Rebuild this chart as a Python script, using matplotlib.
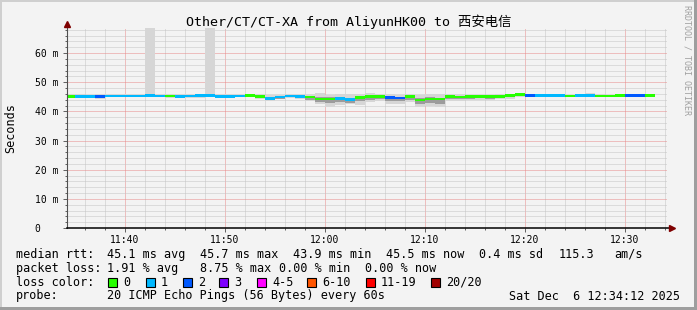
import numpy as np
import matplotlib
matplotlib.use("Agg")
import matplotlib.pyplot as plt
from matplotlib.patches import Rectangle

plt.rcParams["lines.scale_dashes"] = False
MONO = ["DejaVu Sans Mono", "Noto Sans CJK SC"]

# ---------------------------------------------------------------------------
# Data (one value per 60 s step starting 11:34)
# ---------------------------------------------------------------------------
first_step = "11:34"
window = ("11:34:12", "12:34:12")

median = [45.2, 45.2, 45.2, 45.1, 45.3, 45.3, 45.3, 45.3, 45.4, 45.3,
          45.3, 45.2, 45.3, 45.4, 45.4, 45.2, 45.2, 45.3, 45.5, 45.0,
          44.4, 44.9, 45.3, 45.1, 44.9, 44.2, 44.2, 44.5, 44.1, 44.7,
          45.1, 45.1, 44.7, 44.6, 45.0, 43.9, 44.3, 44.2, 45.1, 44.9,
          45.0, 45.0, 45.0, 45.2, 45.4, 45.7, 45.4, 45.4, 45.4, 45.4,
          45.3, 45.5, 45.5, 45.3, 45.3, 45.4, 45.5, 45.5, 45.5]
lost = [0, 1, 1, 2, 1, 1, 1, 1, 1, 1,
        0, 1, 1, 1, 1, 1, 1, 1, 0, 0,
        1, 1, 1, 1, 0, 0, 0, 1, 1, 0,
        0, 0, 2, 2, 0, 0, 0, 0, 0, 0,
        0, 0, 0, 0, 0, 0, 2, 1, 1, 1,
        0, 1, 1, 0, 0, 0, 2, 2, 0]
ping_max = [46.1, 45.8, 45.7, 45.8, 45.9, 45.9, 45.8, 45.8, 90.0, 45.9,
            45.8, 45.8, 45.9, 45.9, 90.0, 46.0, 46.1, 46.0, 46.0, 45.9,
            45.6, 45.7, 46.0, 45.9, 46.1, 46.2, 45.6, 45.9, 45.8, 46.0,
            46.3, 46.0, 45.9, 45.7, 45.8, 45.6, 46.1, 45.9, 46.0, 45.8,
            45.7, 45.6, 45.7, 45.8, 46.0, 46.2, 46.0, 45.8, 45.8, 45.9,
            45.7, 46.0, 46.2, 45.8, 45.7, 45.8, 45.9, 45.8, 45.9]
ping_min = [44.6, 44.8, 44.8, 44.3, 44.9, 44.9, 44.9, 44.8, 44.9, 44.9,
            44.6, 44.7, 44.5, 44.5, 44.9, 44.9, 44.8, 44.8, 44.9, 44.3,
            43.6, 44.1, 44.6, 44.4, 43.4, 42.4, 41.6, 42.3, 42.6, 42.3,
            43.2, 43.4, 42.7, 42.6, 43.2, 41.4, 41.8, 41.6, 43.4, 43.6,
            43.9, 44.0, 44.0, 44.2, 44.4, 44.8, 44.8, 44.8, 44.9, 44.9,
            44.8, 44.9, 45.0, 44.8, 44.8, 44.8, 44.9, 44.9, 44.8]
ping_q3 = [45.6, 45.5, 45.5, 45.5, 45.6, 45.6, 45.6, 45.6, 45.7, 45.6,
           45.6, 45.5, 45.6, 45.7, 45.7, 45.5, 45.5, 45.6, 45.8, 45.4,
           44.9, 45.3, 45.6, 45.5, 45.4, 44.8, 44.8, 45.0, 44.7, 45.2,
           45.6, 45.5, 45.2, 45.1, 45.4, 44.5, 44.8, 44.7, 45.5, 45.3,
           45.4, 45.4, 45.4, 45.5, 45.7, 46.0, 45.7, 45.7, 45.7, 45.7,
           45.6, 45.8, 45.8, 45.6, 45.6, 45.7, 45.8, 45.8, 45.8]
ping_q1 = [44.8, 44.8, 44.8, 44.6, 44.9, 44.9, 44.9, 44.9, 45.0, 44.9,
           44.9, 44.8, 44.8, 44.9, 45.0, 44.8, 44.8, 44.9, 45.1, 44.5,
           43.8, 44.4, 44.8, 44.6, 44.0, 43.1, 42.8, 43.3, 43.0, 43.4,
           44.0, 44.1, 43.5, 43.4, 43.9, 42.5, 42.9, 42.7, 44.1, 44.2,
           44.4, 44.5, 44.4, 44.6, 44.8, 45.2, 45.0, 45.0, 45.0, 45.1,
           44.9, 45.1, 45.2, 45.0, 45.0, 45.0, 45.1, 45.1, 45.0]

y_labels = ["0   ", "10 m", "20 m", "30 m", "40 m", "50 m", "60 m"]
loss_labels = ["0", "1", "2", "3", "4-5", "6-10", "11-19", "20/20"]
loss_colors = ["#26ff00", "#00b8ff", "#0059ff", "#7e00ff",
               "#ff00ff", "#ff5500", "#ff0000", "#a10000"]

stats_rtt = ["45.1 ms avg", "45.7 ms max", "43.9 ms min", "45.5 ms now",
             "0.4 ms sd", "115.3", "am/s"]
stats_loss = ["1.91 % avg", "8.75 % max", "0.00 % min", "0.00 % now"]
probe_text = "20 ICMP Echo Pings (56 Bytes) every 60s"
stamp = "Sat Dec  6 12:34:12 2025"
title = "Other/CT/CT-XA from AliyunHK00 to 西安电信"


def to_min(s):
    p = [int(v) for v in s.split(":")]
    return p[0] * 60 + p[1] + (p[2] / 60 if len(p) > 2 else 0)


def color_for(n):
    if n <= 3:
        return loss_colors[n]
    if n <= 5:
        return loss_colors[4]
    if n <= 10:
        return loss_colors[5]
    if n <= 19:
        return loss_colors[6]
    return loss_colors[7]


median = np.array(median)
steps = to_min(first_step) + np.arange(len(median))
xlo, xhi = to_min(window[0]), to_min(window[1])

# ---------------------------------------------------------------------------
# Figure
# ---------------------------------------------------------------------------
W, H = 697, 310
BG = "#f3f3f3"
fig = plt.figure(figsize=(W / 100, H / 100), dpi=100, facecolor=BG)
ax = fig.add_axes([67 / W, 1 - 228 / H, 600 / W, 200 / H])
ax.set_facecolor(BG)

# smoke + median
ax.bar(steps, np.array(ping_max) - np.array(ping_min), bottom=ping_min,
       width=1, align="edge", color="#d6d6d6", linewidth=0, zorder=2)
ax.bar(steps, np.array(ping_q3) - np.array(ping_q1), bottom=ping_q1,
       width=1, align="edge", color="#9c9c9c", linewidth=0, zorder=3)
ax.bar(steps, 0.9, bottom=median - 0.45, width=1, align="edge",
       color=[color_for(n) for n in lost], linewidth=0, zorder=4)

ax.set_xlim(xlo, xhi)
ax.set_ylim(0, 68.6)

ax.set_xticks(np.arange(700, 755, 10))
ax.set_xticks(np.arange(696, 755, 2), minor=True)
ax.set_xticklabels([f"{int(m) // 60}:{int(m) % 60:02d}" for m in ax.get_xticks()])
ax.set_yticks(np.arange(0, 61, 10))
ax.set_yticks(np.arange(0, 69, 2), minor=True)
ax.set_yticklabels(y_labels)

ax.set_axisbelow(True)
ax.grid(which="minor", color="#c4c4c4", linestyle=(0, (0.72, 0.72)), linewidth=0.72)
ax.grid(which="major", color="#e88a8a", linestyle=(0, (0.72, 0.72)), linewidth=0.72)

for s in ax.spines.values():
    s.set_visible(False)
ax.tick_params(which="both", direction="out", color="#606060", width=0.7,
               labelsize=7, labelfontfamily="DejaVu Sans Mono")
ax.tick_params(which="major", length=3)
ax.tick_params(which="minor", length=1.2)
ax.tick_params(axis="y", pad=3)
ax.tick_params(axis="x", pad=2)

# axes lines with arrows
ax.plot([0, 0], [0, 1.02], transform=ax.transAxes, clip_on=False,
        color="#505050", lw=0.8, zorder=5)
ax.plot([0, 1.008], [0, 0], transform=ax.transAxes, clip_on=False,
        color="black", lw=1.1, zorder=5)
ax.plot(0, 1.02, marker="^", ms=4, color="#7f0000", transform=ax.transAxes,
        clip_on=False, zorder=6)
ax.plot(1.008, 0, marker=">", ms=4, color="#7f0000", transform=ax.transAxes,
        clip_on=False, zorder=6)

# texts
fig.text(0.5, 1 - 22 / H, title, ha="center", va="center", fontsize=9.6,
         family=MONO)
fig.text(11 / W, 1 - 128 / H, "Seconds", rotation=90, ha="center",
         va="center", fontsize=8.5, family=MONO)
fig.text(687 / W, 1 - 5 / H, "RRDTOOL / TOBI OETIKER", rotation=270,
         ha="center", va="top", fontsize=6, family=MONO, color="#a0a0a0")


def put(x, y, s, **kw):
    fig.text(x / W, 1 - y / H, s, va="center", fontsize=8.5, family=MONO, **kw)


rows = [254.3, 268.3, 282.3, 296.0]
put(16, rows[0], "median rtt:")
for x, s in zip([107, 200, 293, 386, 479, 559, 614], stats_rtt):
    put(x, rows[0], s)
put(16, rows[1], "packet loss:")
for x, s in zip([107, 200, 279, 365], stats_loss):
    put(x, rows[1], s)
put(16, rows[2], "loss color:")
box_x = [108, 146, 183, 219, 257, 307, 366, 431]
for bx, lab, col in zip(box_x, loss_labels, loss_colors):
    fig.add_artist(Rectangle((bx / W, 1 - (rows[2] + 4.5) / H), 9 / W, 9 / H,
                             transform=fig.transFigure, facecolor=col,
                             edgecolor="black", linewidth=0.8))
    put(bx + 15, rows[2], lab)
put(16, rows[3], "probe:")
put(107, rows[3], probe_text)
put(680, rows[3], stamp, ha="right")

# 3D-ish frame
fig.add_artist(Rectangle((0, 0), 2 / W, 1, transform=fig.transFigure,
                         facecolor="#cfcfcf", linewidth=0))
fig.add_artist(Rectangle((0, 1 - 2 / H), 1, 2 / H, transform=fig.transFigure,
                         facecolor="#cfcfcf", linewidth=0))
fig.add_artist(Rectangle((1 - 3 / W, 0), 3 / W, 1, transform=fig.transFigure,
                         facecolor="#9e9e9e", linewidth=0))
fig.add_artist(Rectangle((0, 0), 1, 3 / H, transform=fig.transFigure,
                         facecolor="#9e9e9e", linewidth=0))

fig.savefig("out.png", dpi=100, facecolor=BG)
